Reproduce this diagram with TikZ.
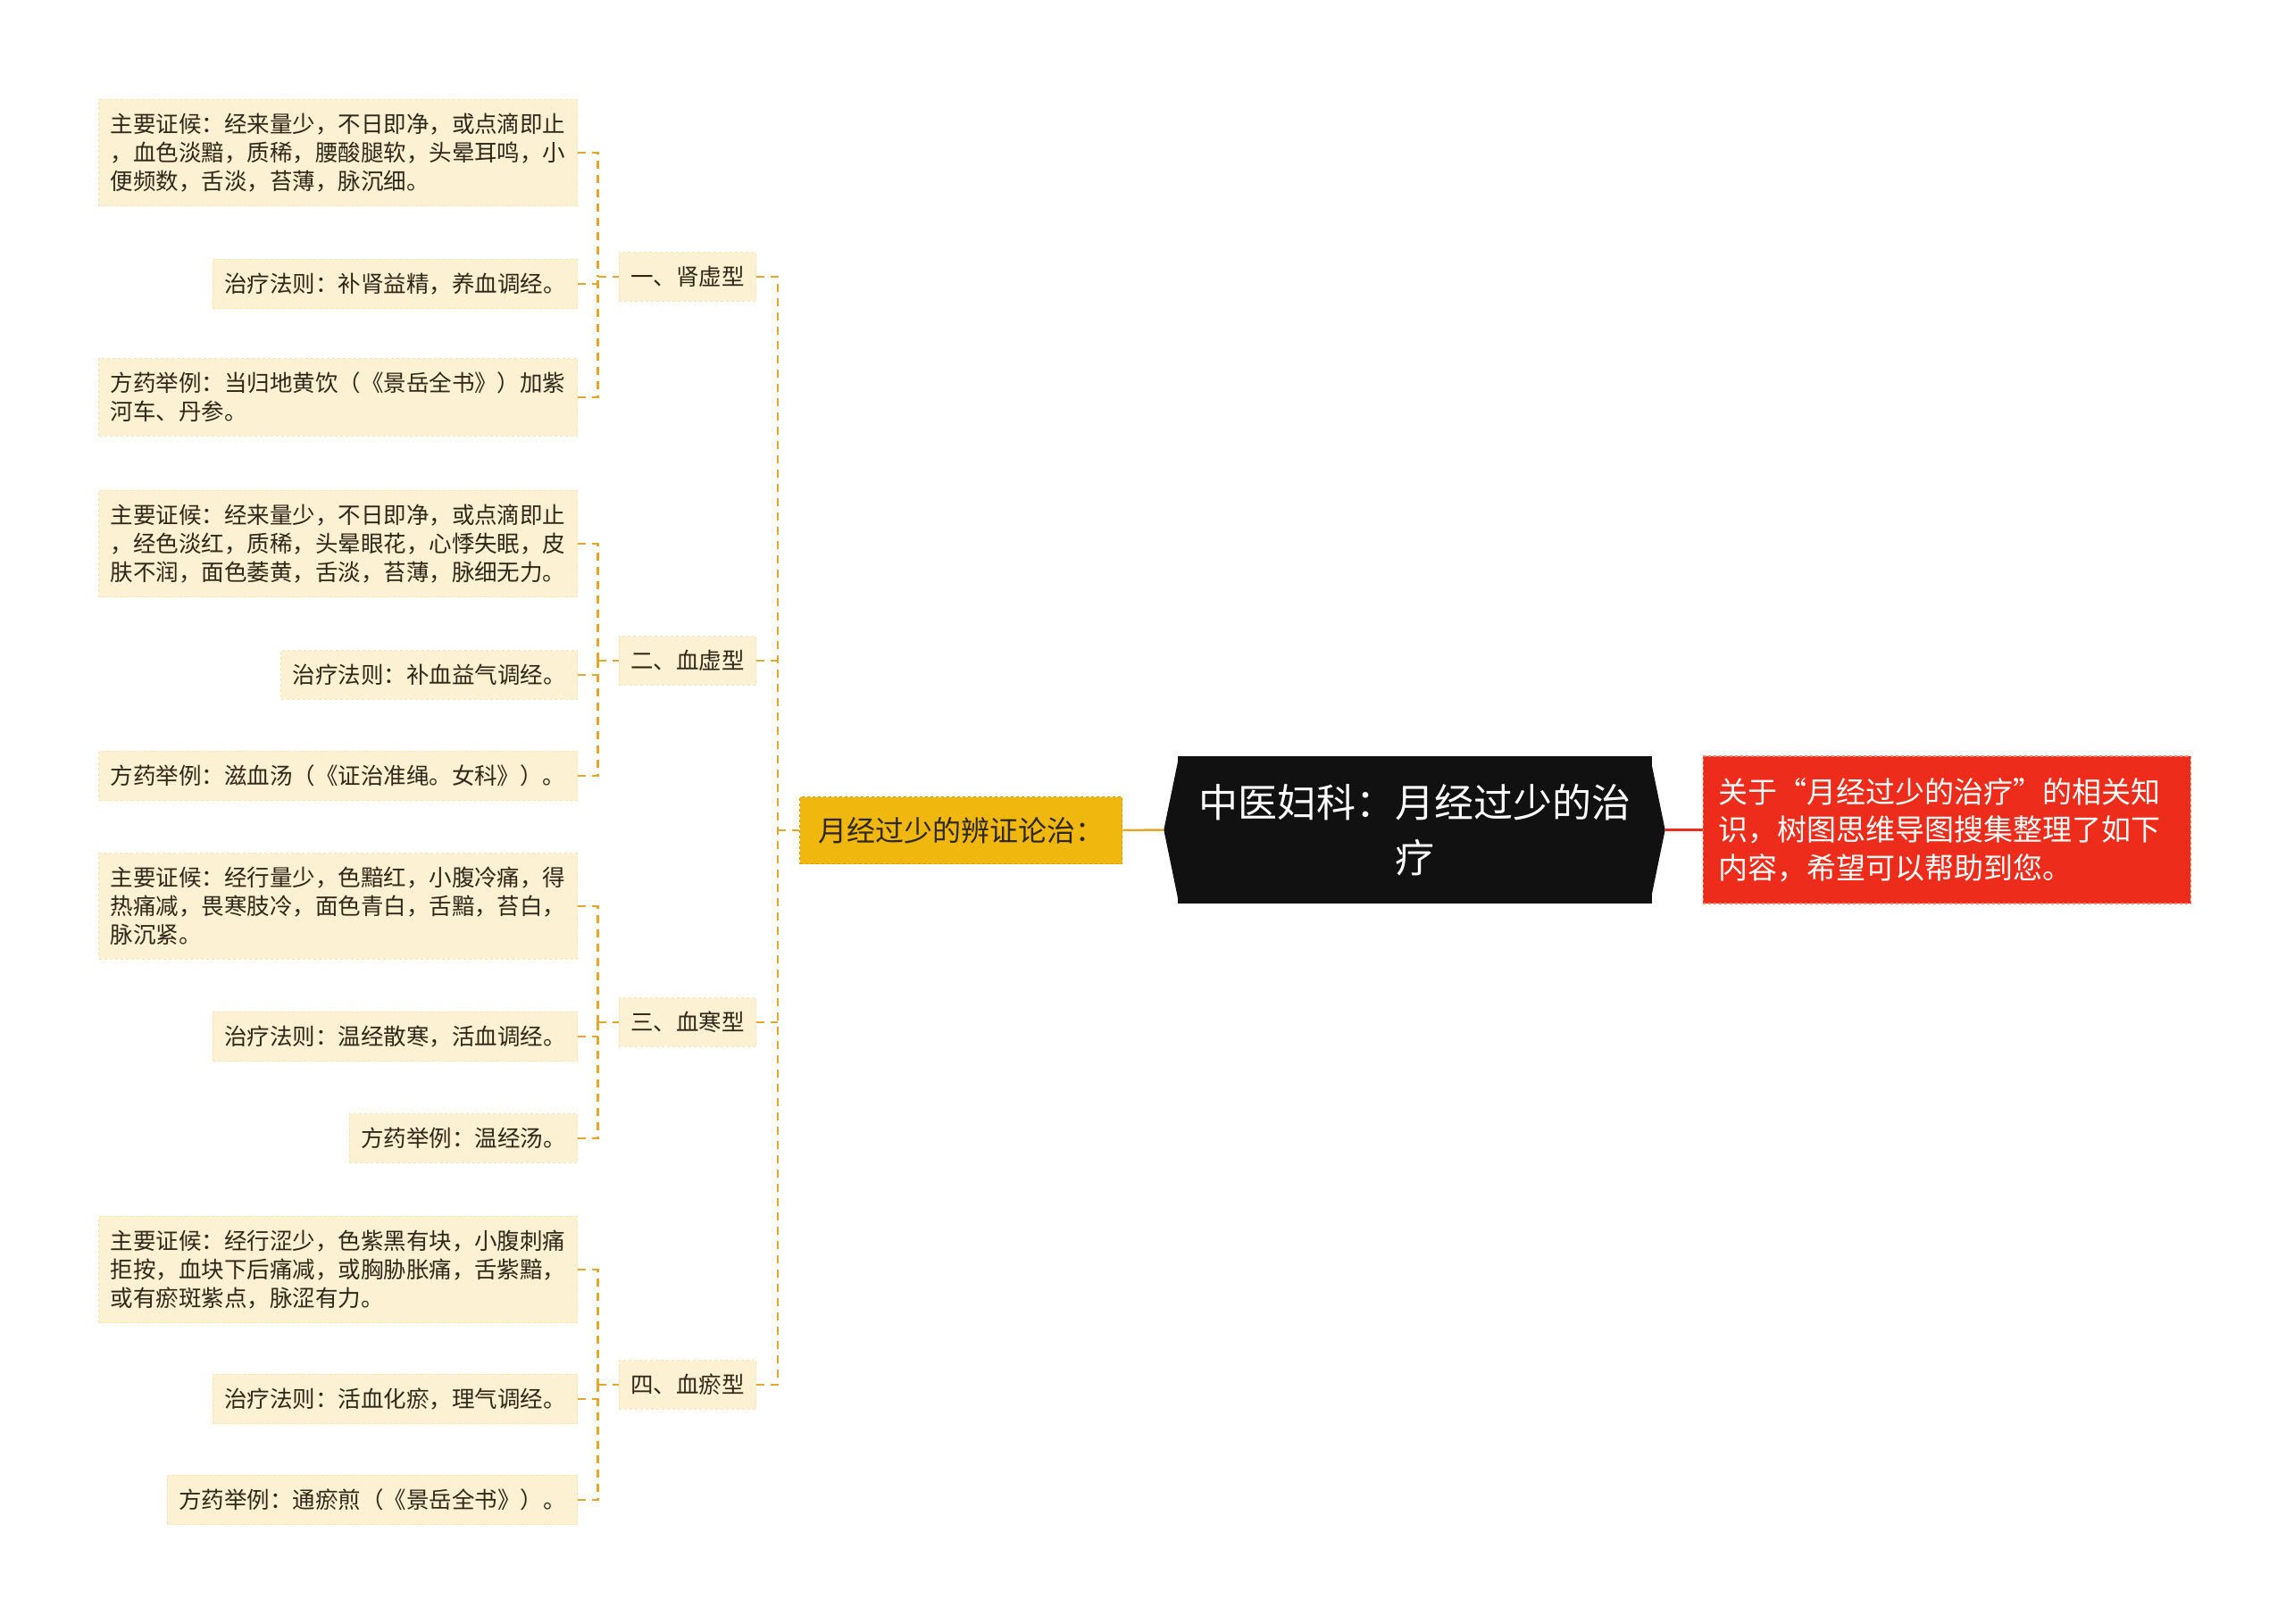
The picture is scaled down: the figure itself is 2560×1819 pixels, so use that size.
\documentclass[tikz,border=0pt]{standalone}
\usepackage{fontspec}
\usepackage{xcolor}
\usepackage{tikz}
\usetikzlibrary{positioning}
\newfontfamily\cjk{Noto Sans CJK SC}
\definecolor{leafbg}{HTML}{FDF1D3}
\definecolor{leafedge}{HTML}{F9E4B4}
\definecolor{linegold}{HTML}{E2A82C}
\definecolor{topicgold}{HTML}{F0B80F}
\definecolor{topicedge}{HTML}{D49C08}
\definecolor{rootblack}{HTML}{111111}
\definecolor{notered}{HTML}{EE2C1B}
\definecolor{noteedge}{HTML}{F6836F}
\definecolor{inkbrown}{HTML}{2F2818}

\begin{document}
\begin{tikzpicture}[x=1pt, y=-1pt,
	leaf/.style={fill=leafbg, draw=leafedge, dashed, line width=1pt, align=left, anchor=east,
		inner xsep=13pt, inner ysep=15.5pt, text=inkbrown, font=\cjk\fontsize{25.5}{32}\selectfont},
	kind/.style={leaf, align=center},
	conn/.style={draw=linegold, line width=2.5pt, dash pattern=on 9pt off 7pt},
	topicbox/.style={fill=topicgold, draw=topicedge, dashed, line width=1.5pt, inner xsep=20.5pt,
		minimum height=75pt, text=inkbrown, font=\cjk\fontsize{32}{38}\selectfont},
	rootbox/.style={fill=rootblack, text=white, align=center, inner sep=0pt, minimum width=531pt,
		minimum height=165pt, font=\cjk\fontsize{44}{62}\selectfont},
	notebox/.style={fill=notered, draw=noteedge, dashed, line width=1.5pt, text=white, align=left,
		text width=512pt, inner xsep=17pt, minimum height=165pt, font=\cjk\fontsize{33}{42.5}\selectfont}]
	\path[fill=white] (0,0) rectangle (2560,1819);
	\useasboundingbox (0,0) rectangle (2560,1819);
	% centre and note
	\node[rootbox] (root) at (1584,929.5) {中医妇科：月经过少的治\\疗};
	\coordinate (rootL) at ([xshift=-15pt]root.west);
	\coordinate (rootR) at ([xshift=15pt]root.east);
	\fill[rootblack] ([xshift=2pt]root.north west) -- (rootL) -- ([xshift=2pt]root.south west) -- cycle;
	\fill[rootblack] ([xshift=-2pt]root.north east) -- (rootR) -- ([xshift=-2pt]root.south east) -- cycle;
	\node[notebox, right=57pt of root] (note) {关于“月经过少的治疗”的相关知\\识，树图思维导图搜集整理了如下\\内容，希望可以帮助到您。};
	\draw[notered, line width=2.5pt] (rootR) -- (note.west);
	\node[topicbox] (topic) at (1076,930) {月经过少的辨证论治：};
	\draw[linegold, line width=2.5pt] (topic.east) -- (rootL);
	% the four types
	\node[kind] (type1) at (847,310) {一、肾虚型};
	\node[kind] (type2) at (847,740) {二、血虚型};
	\node[kind] (type3) at (847,1145) {三、血寒型};
	\node[kind] (type4) at (847,1551) {四、血瘀型};
	% 肾虚
	\node[leaf] (sign1) at (647,171) {主要证候：经来量少，不日即净，或点滴即止\\，血色淡黯，质稀，腰酸腿软，头晕耳鸣，小\\便频数，舌淡，苔薄，脉沉细。};
	\node[leaf] (rule1) at (647,318) {治疗法则：补肾益精，养血调经。};
	\node[leaf] (recipe1) at (647,445) {方药举例：当归地黄饮（《景岳全书》）加紫\\河车、丹参。};
	% 血虚
	\node[leaf] (sign2) at (647,609) {主要证候：经来量少，不日即净，或点滴即止\\，经色淡红，质稀，头晕眼花，心悸失眠，皮\\肤不润，面色萎黄，舌淡，苔薄，脉细无力。};
	\node[leaf] (rule2) at (647,756) {治疗法则：补血益气调经。};
	\node[leaf] (recipe2) at (647,869) {方药举例：滋血汤（《证治准绳。女科》）。};
	% 血寒
	\node[leaf] (sign3) at (647,1015) {主要证候：经行量少，色黯红，小腹冷痛，得\\热痛减，畏寒肢冷，面色青白，舌黯，苔白，\\脉沉紧。};
	\node[leaf] (rule3) at (647,1161) {治疗法则：温经散寒，活血调经。};
	\node[leaf] (recipe3) at (647,1275) {方药举例：温经汤。};
	% 血瘀
	\node[leaf] (sign4) at (647,1422) {主要证候：经行涩少，色紫黑有块，小腹刺痛\\拒按，血块下后痛减，或胸胁胀痛，舌紫黯，\\或有瘀斑紫点，脉涩有力。};
	\node[leaf] (rule4) at (647,1567) {治疗法则：活血化瘀，理气调经。};
	\node[leaf] (recipe4) at (647,1680) {方药举例：通瘀煎（《景岳全书》）。};
	% connectors
	\coordinate (trunk) at ([xshift=-24pt]topic.west);
	\draw[conn] (trunk) -- (topic.west);
	\draw[conn] (type1.east) -| (trunk);
	\draw[conn] (type4.east) -| (trunk);
	\draw[conn] (type2.east) -- (type2.east -| trunk);
	\draw[conn] (type3.east) -- (type3.east -| trunk);
	\foreach \i in {1,2,3,4} {
		\coordinate (fork\i) at ([xshift=-23pt]type\i.west);
		\draw[conn] (fork\i) -- (type\i.west);
		\draw[conn] (sign\i.east) -| (fork\i);
		\draw[conn] (recipe\i.east) -| (fork\i);
		\draw[conn] (rule\i.east) -- (rule\i.east -| fork\i);
	}
\end{tikzpicture}
\end{document}
